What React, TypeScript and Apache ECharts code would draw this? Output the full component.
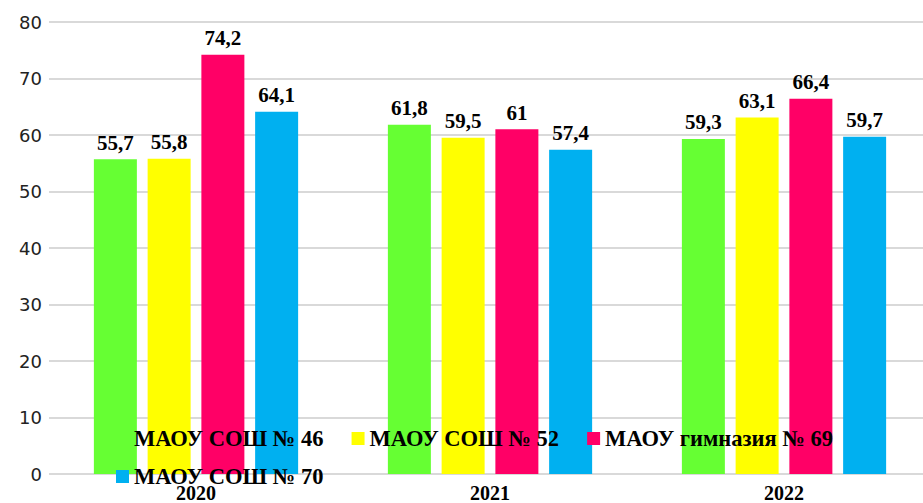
import React, { useEffect, useRef } from "react";
import * as echarts from "echarts";

const categories = ["2020", "2021", "2022"];
const seriesNames = ["МАОУ СОШ № 46", "МАОУ СОШ № 52", "МАОУ гимназия № 69", "МАОУ СОШ № 70"];
const sosh46 = [55.7, 61.8, 59.3];
const sosh52 = [55.8, 59.5, 63.1];
const gym69 = [74.2, 61, 66.4];
const sosh70 = [64.1, 57.4, 59.7];
const colors = ["#66ff33", "#ffff00", "#ff0066", "#00b0f0"];
const yTicks = { min: 0, max: 80, interval: 10 };

const serif = "'Liberation Serif', 'Times New Roman', serif";

export default function App() {
  const ref = useRef<HTMLDivElement>(null);
  useEffect(() => {
    if (!ref.current) return;
    const chart = echarts.init(ref.current, null, { renderer: "svg" });
    const values = [sosh46, sosh52, gym69, sosh70];
    const legendText = { fontFamily: serif, fontWeight: "bold", fontSize: 22.5, color: "#000" };
    chart.setOption({
      animation: false,
      grid: { left: 49, right: 0, top: 22, bottom: 29, containLabel: false },
      legend: [
        {
          data: seriesNames.slice(0, 3),
          left: 116,
          top: 427,
          padding: 0,
          itemGap: 28,
          itemWidth: 13,
          itemHeight: 13,
          icon: "rect",
          textStyle: legendText,
        },
        {
          data: seriesNames.slice(3),
          left: 116,
          top: 465,
          padding: 0,
          itemWidth: 13,
          itemHeight: 13,
          icon: "rect",
          textStyle: legendText,
        },
      ],
      xAxis: {
        type: "category",
        data: categories,
        axisLine: { show: false },
        axisTick: { show: false },
        axisLabel: { fontFamily: serif, fontWeight: "bold", fontSize: 20, color: "#000", margin: 9 },
      },
      yAxis: {
        type: "value",
        min: yTicks.min,
        max: yTicks.max,
        interval: yTicks.interval,
        axisLine: { show: false },
        axisTick: { show: false },
        axisLabel: { fontFamily: "'DejaVu Sans', sans-serif", fontSize: 18, color: "#222", margin: 7 },
        splitLine: { lineStyle: { color: "#d9d9d9", width: 2 } },
      },
      series: seriesNames.map((name, i) => ({
        name,
        type: "bar",
        data: values[i],
        barWidth: 43,
        barGap: "25%",
        itemStyle: { color: colors[i] },
        label: {
          show: true,
          position: "top",
          distance: 6,
          fontFamily: serif,
          fontWeight: "bold",
          fontSize: 21,
          color: "#000",
          formatter: (p: any) => String(p.value).replace(".", ","),
        },
      })),
    });
    return () => chart.dispose();
  }, []);
  return (
    <div style={{ position: "fixed", left: 0, top: 0, width: 923, height: 503, background: "#fff", overflow: "hidden" }}>
      <div ref={ref} style={{ width: 931, height: 503 }} />
    </div>
  );
}
